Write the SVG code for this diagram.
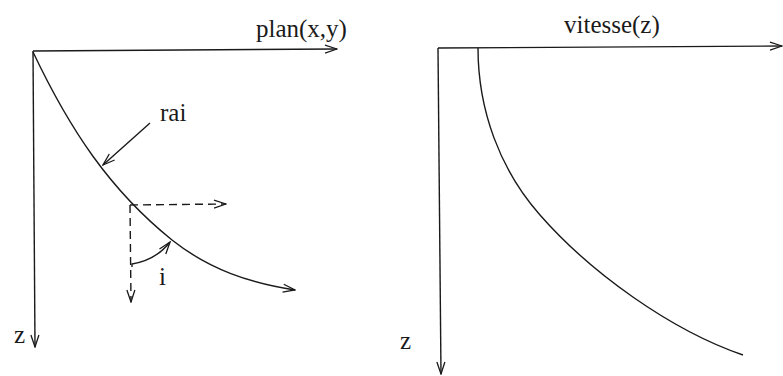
<svg xmlns="http://www.w3.org/2000/svg" width="783" height="376" viewBox="0 0 783 376">
<style>
.ln{fill:none;stroke:#1a1a1a;stroke-width:1.4}
.ds{stroke-dasharray:8 5}
text{font-family:'Liberation Serif','Times New Roman',serif;font-size:25px;fill:#1a1a1a}
</style>
<defs>
<marker id="ah" markerWidth="14" markerHeight="10" refX="13" refY="5" orient="auto" markerUnits="userSpaceOnUse">
<path d="M1,1 L13,5 L1,9" fill="none" stroke="#1a1a1a" stroke-width="1.3"/>
</marker>
</defs>
<rect width="783" height="376" fill="#fff"/>
<g id="left">
<g id="axes-left">
<line class="ln" x1="33" y1="51" x2="337" y2="49" marker-end="url(#ah)"/>
<line class="ln" x1="33" y1="51" x2="35" y2="347" marker-end="url(#ah)"/>
</g>
<g id="ray">
<path class="ln" d="M33,52 C70,130 110,190 172,240 C210,270 250,283 295,290" marker-end="url(#ah)"/>
</g>
<g id="rai-pointer">
<line class="ln" x1="150" y1="123" x2="103" y2="165" marker-end="url(#ah)"/>
</g>
<g id="dashes">
<line class="ln ds" x1="130" y1="205" x2="226" y2="204" marker-end="url(#ah)"/>
<line class="ln ds" x1="130" y1="205" x2="131" y2="302" marker-end="url(#ah)"/>
<path class="ln" d="M132,267 L132,264 Q156,260 170,242" marker-end="url(#ah)"/>
</g>
<text x="256" y="37">plan(x,y)</text>
<text x="160" y="121">rai</text>
<text x="159" y="285">i</text>
<text x="14" y="343">z</text>
</g>
<g id="right">
<g id="axes-right">
<line class="ln" x1="438" y1="48" x2="782" y2="46" marker-end="url(#ah)"/>
<line class="ln" x1="438" y1="48" x2="441" y2="374" marker-end="url(#ah)"/>
</g>
<g id="velocity">
<path class="ln" d="M478,48 C478,110 500,170 540,215 C590,272 670,330 743,355"/>
</g>
<text x="564" y="33">vitesse(z)</text>
<text x="400" y="349">z</text>
</g>
</svg>
